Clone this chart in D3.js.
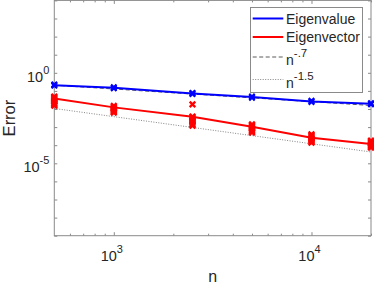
<!DOCTYPE html>
<html><head><meta charset="utf-8">
<script src="https://cdn.jsdelivr.net/npm/d3@7"></script>
<style>
body{margin:0;background:#fff}
svg{display:block}
text{font-family:"Liberation Sans",Arial,Helvetica,sans-serif;fill:#262626}
</style>
</head><body>
<svg id="c" width="374" height="286"></svg>
<script>
// ---- data ----
const sizes = [500, 1000, 2500, 5000, 10000, 20000];
const eigvalMean = [0.2065, 0.148, 0.0724, 0.0457, 0.0263, 0.0195];
const eigvecMean = [0.0385, 0.0123, 0.0037, 0.00105, 0.00026, 0.000118];
const eigvalSamples = [
  [0.225, 0.21, 0.195],
  [0.16, 0.148, 0.138],
  [0.078, 0.072, 0.067],
  [0.049, 0.0455, 0.042],
  [0.0285, 0.0262, 0.0243],
  [0.021, 0.0195, 0.018]
];
const eigvecSamples = [
  [0.049, 0.043, 0.037, 0.032, 0.028, 0.024, 0.020, 0.017, 0.0155],
  [0.0148, 0.013, 0.0115, 0.0102, 0.009, 0.008, 0.0071, 0.0063],
  [0.018, 0.0038, 0.0033, 0.0028, 0.0024, 0.0020, 0.0017, 0.0014, 0.0012],
  [0.0014, 0.00122, 0.00105, 0.0009, 0.00078, 0.00067, 0.00058, 0.0005],
  [0.0004, 0.00034, 0.00029, 0.00025, 0.00021, 0.00018, 0.000155, 0.000138],
  [0.000178, 0.000155, 0.000135, 0.00012, 0.000105, 0.000092, 0.000082, 0.000074]
];
const refN = [500, 20000];
const refSlow = [0.2065, 0.01563];   // n^-.7
const refFast = [0.0107, 4.23e-5];   // n^-1.5
const xMajorTicks = [1e3, 1e4];
const xMinorTicks = [600, 700, 800, 900, 2000, 3000, 4000, 5000, 6000, 7000, 8000, 9000, 20000];
const yTicks = [1e-9,1e-8,1e-7,1e-6,1e-5,1e-4,1e-3,1e-2,1e-1,1e0,1e1,1e2,1e3,1e4];
const yLabelTicks = [1e-5, 1e0];
const xLabelExp = {1000: "3", 10000: "4"};
const yLabelExp = {"0.00001": "-5", "1": "0"};
const legendNames = ["Eigenvalue", "Eigenvector", "n", "n"];
const legendSup = ["", "", "-.7", "-1.5"];

// ---- layout ----
const L = 54.3, R = 371, T = 0.4, B = 235.7;
const svg = d3.select("#c");
const x = d3.scaleLog().domain([500, 20000]).range([L, R]);
const y = d3.scaleLog().domain([1e-9, 1e4]).range([B, T]);
const axisCol = "#8a8a8a";

// axes (ticks inward, mirrored)
function styleAxis(g){ g.select(".domain").remove(); g.selectAll("line").attr("stroke", axisCol); g.selectAll("text").remove(); }
svg.append("g").attr("transform",`translate(0,${B})`).call(d3.axisBottom(x).tickValues(xMajorTicks).tickSize(-3.5)).call(styleAxis);
svg.append("g").attr("transform",`translate(0,${B})`).call(d3.axisBottom(x).tickValues(xMinorTicks).tickSize(-2)).call(styleAxis);
svg.append("g").attr("transform",`translate(0,${T})`).call(d3.axisTop(x).tickValues(xMajorTicks).tickSize(-3.5)).call(styleAxis);
svg.append("g").attr("transform",`translate(0,${T})`).call(d3.axisTop(x).tickValues(xMinorTicks).tickSize(-2)).call(styleAxis);
svg.append("g").attr("transform",`translate(${L},0)`).call(d3.axisLeft(y).tickValues(yTicks).tickSize(-3)).call(styleAxis);
svg.append("g").attr("transform",`translate(${R},0)`).call(d3.axisRight(y).tickValues(yTicks).tickSize(-3)).call(styleAxis);
svg.append("rect").attr("x",L).attr("y",T).attr("width",R-L).attr("height",B-T)
  .attr("fill","none").attr("stroke",axisCol).attr("stroke-width",1);

// tick labels
xMajorTicks.forEach(v=>{
  const t = svg.append("text").attr("x", x(v)-2).attr("y", B+25).attr("text-anchor","middle").attr("font-size",14.5);
  t.append("tspan").text("10");
  t.append("tspan").attr("dy",-8).attr("font-size",11).text(xLabelExp[v]);
});
yLabelTicks.forEach(v=>{
  const t = svg.append("text").attr("x", L-5).attr("y", y(v)+9).attr("text-anchor","end").attr("font-size",14.5);
  t.append("tspan").text("10");
  t.append("tspan").attr("dy",-8).attr("font-size",11).text(yLabelExp[String(v)]);
});

// axis labels
svg.append("text").attr("x",(L+R)/2).attr("y",282).attr("text-anchor","middle").attr("font-size",16).text("n");
svg.append("text").attr("transform",`translate(15,${(T+B)/2}) rotate(-90)`).attr("text-anchor","middle").attr("font-size",16.5).text("Error");

// reference lines
const line = d3.line().x(d=>x(d[0])).y(d=>y(d[1]));
svg.append("path").attr("d", line(refN.map((n,i)=>[n,refSlow[i]])))
  .attr("fill","none").attr("stroke","#5a5a5a").attr("stroke-width",1).attr("stroke-dasharray","4,2.5");
svg.append("path").attr("d", line(refN.map((n,i)=>[n,refFast[i]])))
  .attr("fill","none").attr("stroke","#666").attr("stroke-width",0.8).attr("stroke-dasharray","1,1.5");

// data lines
svg.append("path").attr("d", line(sizes.map((n,i)=>[n,eigvalMean[i]])))
  .attr("fill","none").attr("stroke","#0000ff").attr("stroke-width",2);
svg.append("path").attr("d", line(sizes.map((n,i)=>[n,eigvecMean[i]])))
  .attr("fill","none").attr("stroke","#ff0000").attr("stroke-width",2);

// x markers
function drawX(samples, color, s, w){
  const pts = [];
  samples.forEach((arr,i)=>arr.forEach(v=>pts.push([sizes[i], v])));
  svg.append("g").selectAll("path").data(pts).join("path")
    .attr("d", d=>{const cx=x(d[0]), cy=y(d[1]); return `M${cx-s},${cy-s}L${cx+s},${cy+s}M${cx-s},${cy+s}L${cx+s},${cy-s}`;})
    .attr("stroke", color).attr("stroke-width",w).attr("fill","none");
}
drawX(eigvalSamples, "#0000ff", 2.7, 2);
drawX(eigvecSamples, "#ff0000", 2.8, 2.3);

// legend
const lg = svg.append("g");
lg.append("rect").attr("x",250.5).attr("y",7.5).attr("width",112).attr("height",85)
  .attr("fill","#fff").attr("stroke",axisCol).attr("stroke-width",1);
const legY = [18.5, 37, 57, 79.5];
const legStroke = ["#0000ff","#ff0000","#5a5a5a","#666"];
const legWidth = [2,2,1,0.8];
const legDash = [null,null,"4,2.5","1,1.5"];
legendNames.forEach((name,i)=>{
  lg.append("line").attr("x1",252.7).attr("x2",283.3).attr("y1",legY[i]).attr("y2",legY[i])
    .attr("stroke",legStroke[i]).attr("stroke-width",legWidth[i]).attr("stroke-dasharray",legDash[i]);
  const t = lg.append("text").attr("x",286).attr("font-size",14);
  if (legendSup[i]) {
    t.attr("y", legY[i]+8);
    t.append("tspan").text(name);
    t.append("tspan").attr("dy",-8).attr("font-size",11.5).text(legendSup[i]);
  } else {
    t.attr("y", legY[i]+5).text(name);
  }
});
</script>
</body></html>
